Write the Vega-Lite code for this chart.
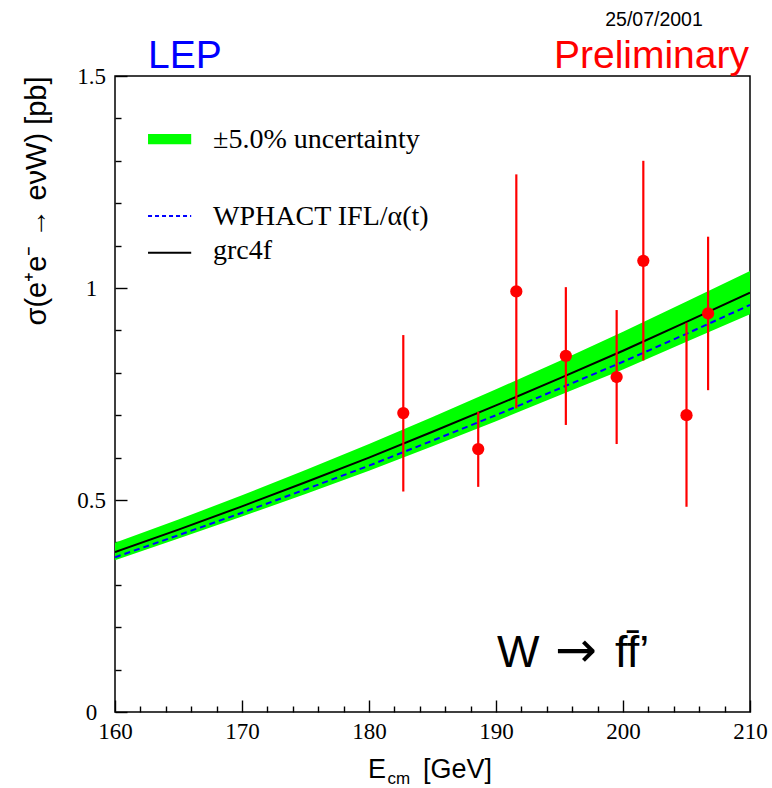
{
  "$schema": "https://vega.github.io/schema/vega-lite/v6.json",
  "width": 635,
  "height": 636,
  "autosize": {"type": "none"},
  "padding": {"left": 115, "top": 76, "right": 22, "bottom": 76},
  "background": "white",
  "config": {
    "view": {"stroke": "black", "strokeWidth": 1.5},
    "axis": {"grid": false, "domain": false, "tickColor": "black", "tickWidth": 1.4, "labelColor": "black", "titleColor": "black",
      "labelFont": "Liberation Serif", "labelFontSize": 23, "labelFlush": false, "labelOverlap": false,
      "titleFont": "Liberation Sans", "titleFontSize": 29, "titleFontWeight": "normal"}
  },
  "datasets": {
    "theory": [
      {"E": 160, "grc4f": 0.377, "wphact": 0.365, "lo": 0.358, "hi": 0.399},
      {"E": 165, "grc4f": 0.430, "wphact": 0.417, "lo": 0.409, "hi": 0.454},
      {"E": 170, "grc4f": 0.485, "wphact": 0.470, "lo": 0.461, "hi": 0.511},
      {"E": 175, "grc4f": 0.542, "wphact": 0.525, "lo": 0.514, "hi": 0.571},
      {"E": 180, "grc4f": 0.600, "wphact": 0.581, "lo": 0.569, "hi": 0.632},
      {"E": 185, "grc4f": 0.661, "wphact": 0.640, "lo": 0.627, "hi": 0.696},
      {"E": 190, "grc4f": 0.723, "wphact": 0.700, "lo": 0.686, "hi": 0.761},
      {"E": 195, "grc4f": 0.787, "wphact": 0.763, "lo": 0.747, "hi": 0.828},
      {"E": 200, "grc4f": 0.852, "wphact": 0.826, "lo": 0.808, "hi": 0.897},
      {"E": 205, "grc4f": 0.920, "wphact": 0.892, "lo": 0.873, "hi": 0.968},
      {"E": 210, "grc4f": 0.989, "wphact": 0.960, "lo": 0.938, "hi": 1.040}
    ],
    "measurements": [
      {"E": 182.7, "sigma": 0.705, "lo": 0.520, "hi": 0.889},
      {"E": 188.6, "sigma": 0.620, "lo": 0.531, "hi": 0.708},
      {"E": 191.6, "sigma": 0.992, "lo": 0.716, "hi": 1.268},
      {"E": 195.5, "sigma": 0.840, "lo": 0.677, "hi": 1.002},
      {"E": 199.5, "sigma": 0.790, "lo": 0.632, "hi": 0.948},
      {"E": 201.6, "sigma": 1.064, "lo": 0.829, "hi": 1.300},
      {"E": 205.0, "sigma": 0.700, "lo": 0.484, "hi": 0.918},
      {"E": 206.7, "sigma": 0.940, "lo": 0.759, "hi": 1.121}
    ]
  },
  "layer": [
    {
      "data": {"name": "theory"},
      "mark": {"type": "area", "color": "#00ff00", "clip": true},
      "encoding": {
        "x": {"field": "E", "type": "quantitative", "scale": {"domain": [160, 210], "nice": false},
          "axis": {"orient": "bottom", "values": [160, 170, 180, 190, 200, 210], "tickSize": -12, "labelPadding": 20, "title": null}},
        "y": {"field": "lo", "type": "quantitative", "scale": {"domain": [0, 1.5], "nice": false, "zero": false},
          "axis": {"orient": "left", "values": [0, 0.5, 1, 1.5], "format": "~g", "tickSize": -12, "labelAlign": "center", "labelPadding": 36,
            "title": "σ(e⁺e⁻ → eνW) [pb]", "titleAnchor": "end", "titlePadding": 25}},
        "y2": {"field": "hi"}
      }
    },
    {
      "data": {"name": "theory"},
      "mark": {"type": "line", "color": "#0000ff", "strokeWidth": 2, "strokeDash": [6, 4], "clip": true},
      "encoding": {
        "x": {"field": "E", "type": "quantitative", "scale": {"domain": [160, 210], "nice": false}, "axis": null},
        "y": {"field": "wphact", "type": "quantitative", "scale": {"domain": [0, 1.5], "nice": false, "zero": false}, "axis": null}
      }
    },
    {
      "data": {"name": "theory"},
      "mark": {"type": "line", "color": "black", "strokeWidth": 2, "clip": true},
      "encoding": {
        "x": {"field": "E", "type": "quantitative", "scale": {"domain": [160, 210], "nice": false}, "axis": null},
        "y": {"field": "grc4f", "type": "quantitative", "scale": {"domain": [0, 1.5], "nice": false, "zero": false}, "axis": null}
      }
    },
    {
      "data": {"name": "measurements"},
      "mark": {"type": "rule", "color": "#ff0000", "strokeWidth": 2.2},
      "encoding": {
        "x": {"field": "E", "type": "quantitative", "scale": {"domain": [160, 210], "nice": false}, "axis": null},
        "y": {"field": "lo", "type": "quantitative", "scale": {"domain": [0, 1.5], "nice": false, "zero": false}, "axis": null},
        "y2": {"field": "hi"}
      }
    },
    {
      "data": {"name": "measurements"},
      "mark": {"type": "circle", "color": "#ff0000", "opacity": 1, "size": 150},
      "encoding": {
        "x": {"field": "E", "type": "quantitative", "scale": {"domain": [160, 210], "nice": false}, "axis": null},
        "y": {"field": "sigma", "type": "quantitative", "scale": {"domain": [0, 1.5], "nice": false, "zero": false}, "axis": null}
      }
    },
    {
      "data": {"values": [{}]},
      "mark": {"type": "point", "opacity": 0},
      "encoding": {
        "x": {"datum": 160, "type": "quantitative", "scale": {"domain": [160, 210], "nice": false},
          "axis": {"orient": "bottom", "values": [162, 164, 166, 168, 172, 174, 176, 178, 182, 184, 186, 188, 192, 194, 196, 198, 202, 204, 206, 208], "tickSize": -6, "labels": false, "title": null}},
        "y": {"datum": 0, "type": "quantitative", "scale": {"domain": [0, 1.5], "nice": false, "zero": false},
          "axis": {"orient": "left", "values": [0.1, 0.2, 0.3, 0.4, 0.6, 0.7, 0.8, 0.9, 1.1, 1.2, 1.3, 1.4], "tickSize": -6, "labels": false, "title": null}}
      }
    },
    {
      "data": {"values": [{}]},
      "mark": {"type": "rect", "color": "#00ff00"},
      "encoding": {
        "x": {"datum": 162.6, "scale": {"domain": [160, 210], "nice": false}, "axis": null},
        "x2": {"datum": 166.0},
        "y": {"datum": 1.339, "scale": {"domain": [0, 1.5], "nice": false, "zero": false}, "axis": null},
        "y2": {"datum": 1.363}
      }
    },
    {
      "data": {"values": [{}]},
      "mark": {"type": "rule", "color": "#0000ff", "strokeWidth": 2, "strokeDash": [4, 3]},
      "encoding": {
        "x": {"datum": 162.6, "scale": {"domain": [160, 210], "nice": false}, "axis": null},
        "x2": {"datum": 166.0},
        "y": {"datum": 1.170, "scale": {"domain": [0, 1.5], "nice": false, "zero": false}, "axis": null}
      }
    },
    {
      "data": {"values": [{}]},
      "mark": {"type": "rule", "color": "black", "strokeWidth": 2},
      "encoding": {
        "x": {"datum": 162.6, "scale": {"domain": [160, 210], "nice": false}, "axis": null},
        "x2": {"datum": 166.0},
        "y": {"datum": 1.083, "scale": {"domain": [0, 1.5], "nice": false, "zero": false}, "axis": null}
      }
    },
    {
      "data": {"values": [{"label": "±5.0% uncertainty", "v": 1.330}, {"label": "WPHACT IFL/α(t)", "v": 1.149}, {"label": "grc4f", "v": 1.068}]},
      "mark": {"type": "text", "font": "Liberation Serif", "fontSize": 28, "align": "left", "baseline": "alphabetic", "color": "black"},
      "encoding": {
        "x": {"datum": 167.72, "scale": {"domain": [160, 210], "nice": false}, "axis": null},
        "y": {"field": "v", "type": "quantitative", "scale": {"domain": [0, 1.5], "nice": false, "zero": false}, "axis": null},
        "text": {"field": "label"}
      }
    },
    {
      "data": {"values": [{}]},
      "mark": {"type": "text", "text": "LEP", "font": "Liberation Sans", "fontSize": 39, "align": "left", "baseline": "alphabetic", "color": "#0000ff"},
      "encoding": {
        "x": {"datum": 162.6, "scale": {"domain": [160, 210], "nice": false}, "axis": null},
        "y": {"datum": 1.519, "scale": {"domain": [0, 1.5], "nice": false, "zero": false}, "axis": null}
      }
    },
    {
      "data": {"values": [{}]},
      "mark": {"type": "text", "text": "Preliminary", "font": "Liberation Sans", "fontSize": 39, "align": "right", "baseline": "alphabetic", "color": "#ff0000"},
      "encoding": {
        "x": {"datum": 209.92, "scale": {"domain": [160, 210], "nice": false}, "axis": null},
        "y": {"datum": 1.519, "scale": {"domain": [0, 1.5], "nice": false, "zero": false}, "axis": null}
      }
    },
    {
      "data": {"values": [{}]},
      "mark": {"type": "text", "text": "25/07/2001", "font": "Liberation Sans", "fontSize": 19.5, "align": "center", "baseline": "alphabetic", "color": "black"},
      "encoding": {
        "x": {"datum": 202.44, "scale": {"domain": [160, 210], "nice": false}, "axis": null},
        "y": {"datum": 1.6186, "scale": {"domain": [0, 1.5], "nice": false, "zero": false}, "axis": null}
      }
    },
    {
      "data": {"values": [{}]},
      "mark": {"type": "text", "text": "W", "font": "Liberation Sans", "fontSize": 45, "align": "left", "baseline": "alphabetic", "color": "black"},
      "encoding": {
        "x": {"datum": 190.08, "scale": {"domain": [160, 210], "nice": false}, "axis": null},
        "y": {"datum": 0.106, "scale": {"domain": [0, 1.5], "nice": false, "zero": false}, "axis": null}
      }
    },
    {
      "data": {"values": [{}]},
      "mark": {"type": "text", "text": "→", "font": "DejaVu Sans", "fontSize": 50, "align": "center", "baseline": "alphabetic", "color": "black"},
      "encoding": {
        "x": {"datum": 196.3, "scale": {"domain": [160, 210], "nice": false}, "axis": null},
        "y": {"datum": 0.106, "scale": {"domain": [0, 1.5], "nice": false, "zero": false}, "axis": null}
      }
    },
    {
      "data": {"values": [{}]},
      "mark": {"type": "text", "text": "ff̄’", "font": "Liberation Sans", "fontSize": 45, "align": "left", "baseline": "alphabetic", "color": "black"},
      "encoding": {
        "x": {"datum": 199.37, "scale": {"domain": [160, 210], "nice": false}, "axis": null},
        "y": {"datum": 0.106, "scale": {"domain": [0, 1.5], "nice": false, "zero": false}, "axis": null}
      }
    },
    {
      "data": {"values": [{}]},
      "mark": {"type": "text", "text": "E", "font": "Liberation Sans", "fontSize": 27, "align": "left", "baseline": "alphabetic", "color": "black"},
      "encoding": {
        "x": {"datum": 179.92, "scale": {"domain": [160, 210], "nice": false}, "axis": null},
        "y": {"datum": -0.1557, "scale": {"domain": [0, 1.5], "nice": false, "zero": false}, "axis": null}
      }
    },
    {
      "data": {"values": [{}]},
      "mark": {"type": "text", "text": "cm", "font": "Liberation Sans", "fontSize": 17, "align": "left", "baseline": "alphabetic", "color": "black"},
      "encoding": {
        "x": {"datum": 181.45, "scale": {"domain": [160, 210], "nice": false}, "axis": null},
        "y": {"datum": -0.170, "scale": {"domain": [0, 1.5], "nice": false, "zero": false}, "axis": null}
      }
    },
    {
      "data": {"values": [{}]},
      "mark": {"type": "text", "text": "[GeV]", "font": "Liberation Sans", "fontSize": 27, "align": "left", "baseline": "alphabetic", "color": "black"},
      "encoding": {
        "x": {"datum": 184.25, "scale": {"domain": [160, 210], "nice": false}, "axis": null},
        "y": {"datum": -0.1557, "scale": {"domain": [0, 1.5], "nice": false, "zero": false}, "axis": null}
      }
    }
  ],
  "resolve": {"axis": {"x": "independent", "y": "independent"}}
}
